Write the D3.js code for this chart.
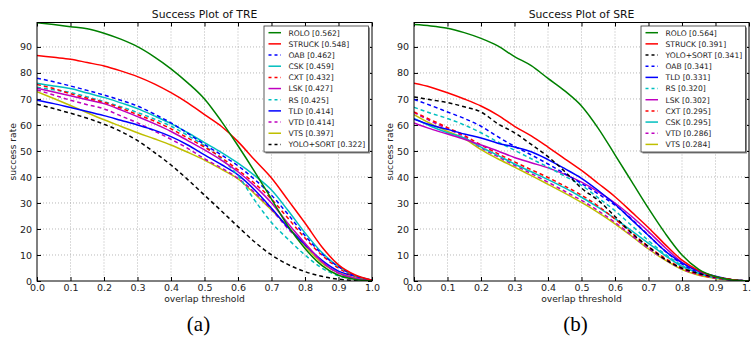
<!DOCTYPE html>
<html>
<head>
<meta charset="utf-8">
<script src="https://cdn.jsdelivr.net/npm/d3@7"></script>
<style>
  body { margin: 0; background: #fff; }
  svg { display: block; font-family: "DejaVu Sans", sans-serif; }
</style>
</head>
<body>
<svg id="chart" width="751" height="339"></svg>
<script>
// overlap thresholds the success rate was sampled at
const thresholds = [0.0, 0.05, 0.1, 0.15, 0.2, 0.25, 0.3, 0.35, 0.4, 0.45, 0.5, 0.55, 0.6, 0.65, 0.7, 0.75, 0.8, 0.85, 0.9, 0.95, 1.0];
const xTicks = [0.0, 0.1, 0.2, 0.3, 0.4, 0.5, 0.6, 0.7, 0.8, 0.9, 1.0];
const yTicks = [0, 10, 20, 30, 40, 50, 60, 70, 80, 90];

// TRE panel
const treNames = ['ROLO', 'STRUCK', 'OAB', 'CSK', 'CXT', 'LSK', 'RS', 'TLD', 'VTD', 'VTS', 'YOLO+SORT'];
const treScores = ['0.562', '0.548', '0.462', '0.459', '0.432', '0.427', '0.425', '0.414', '0.414', '0.397', '0.322'];
const treRolo = [99.3, 98.6, 97.8, 97.0, 95.3, 93.0, 90.1, 86.2, 81.6, 76.2, 70.0, 61.5, 52.0, 42.0, 31.5, 21.0, 12.5, 6.0, 2.2, 0.6, 0.0];
const treStruck = [86.7, 86.0, 85.3, 84.0, 82.7, 80.8, 78.6, 75.8, 72.4, 68.5, 64.0, 59.5, 53.6, 46.5, 39.6, 31.0, 22.3, 13.2, 6.2, 2.3, 0.3];
const treOab = [78.0, 76.6, 75.0, 73.3, 71.5, 69.5, 67.3, 64.2, 60.8, 56.8, 52.5, 48.5, 44.3, 39.0, 33.0, 25.5, 17.5, 10.5, 5.5, 2.0, 0.3];
const treCsk = [76.0, 75.0, 74.0, 72.3, 70.6, 68.5, 66.3, 63.5, 60.5, 57.0, 53.2, 49.5, 45.3, 40.5, 35.0, 27.0, 18.5, 11.0, 5.5, 2.0, 0.3];
const treCxt = [75.6, 74.0, 72.0, 70.3, 68.7, 66.5, 64.0, 61.5, 58.5, 55.0, 51.5, 47.5, 42.7, 37.5, 31.5, 24.0, 16.5, 10.0, 5.0, 1.8, 0.3];
const treLsk = [74.1, 72.7, 71.2, 69.7, 68.2, 65.8, 63.2, 60.5, 57.5, 54.0, 50.4, 46.5, 42.0, 36.5, 30.0, 22.0, 14.5, 7.5, 3.0, 1.0, 0.2];
const treRs = [74.5, 73.5, 72.5, 70.8, 69.0, 67.0, 64.8, 62.3, 59.5, 56.0, 52.0, 47.0, 40.5, 31.0, 22.5, 16.0, 10.0, 5.0, 2.0, 0.7, 0.1];
const treTld = [69.5, 68.2, 66.7, 65.2, 63.6, 61.8, 60.0, 58.0, 55.5, 52.3, 48.5, 44.8, 40.8, 35.0, 28.0, 20.5, 14.0, 8.0, 3.8, 1.8, 0.3];
const treVtd = [73.5, 71.5, 69.5, 67.8, 66.2, 63.5, 60.8, 57.7, 54.5, 51.0, 47.0, 43.5, 39.5, 34.0, 27.5, 20.0, 14.0, 7.5, 3.0, 1.0, 0.2];
const treVts = [72.8, 70.2, 67.5, 64.7, 62.0, 59.5, 57.0, 54.7, 52.3, 49.5, 46.5, 43.0, 39.3, 33.5, 27.3, 20.8, 13.5, 7.0, 3.2, 1.2, 0.2];
const treYolo = [68.0, 66.3, 64.5, 62.6, 60.3, 57.5, 54.0, 49.5, 44.6, 39.0, 33.0, 27.0, 20.9, 15.0, 10.0, 6.3, 3.6, 1.8, 0.7, 0.2, 0.0];

// SRE panel
const sreNames = ['ROLO', 'STRUCK', 'YOLO+SORT', 'OAB', 'TLD', 'RS', 'LSK', 'CXT', 'CSK', 'VTD', 'VTS'];
const sreScores = ['0.564', '0.391', '0.341', '0.341', '0.331', '0.320', '0.302', '0.295', '0.295', '0.286', '0.284'];
const sreRolo = [98.6, 98.1, 97.2, 95.5, 93.3, 90.4, 86.3, 82.8, 77.9, 73.1, 67.3, 58.7, 48.5, 38.2, 27.9, 18.3, 10.0, 4.5, 1.7, 0.4, 0.0];
const sreStruck = [76.0, 74.5, 72.4, 70.0, 67.3, 63.8, 59.5, 55.8, 51.5, 47.0, 42.5, 37.5, 32.4, 26.5, 20.5, 14.0, 8.0, 4.0, 1.6, 0.5, 0.0];
const sreYolo = [70.8, 69.7, 68.6, 67.0, 65.0, 60.5, 57.0, 52.5, 47.8, 42.1, 35.7, 31.0, 24.8, 18.3, 13.2, 8.3, 4.9, 2.9, 1.5, 0.5, 0.0];
const sreOab = [69.8, 67.5, 65.0, 62.5, 59.5, 55.5, 51.8, 48.5, 45.0, 41.3, 37.5, 33.5, 29.2, 23.8, 17.5, 11.5, 6.5, 3.2, 1.4, 0.4, 0.0];
const sreTld = [62.2, 60.0, 58.3, 56.5, 55.0, 53.0, 51.5, 49.7, 46.7, 43.2, 39.5, 34.8, 29.5, 23.5, 17.5, 11.5, 7.0, 3.8, 1.8, 0.5, 0.0];
const sreRs = [66.8, 64.5, 62.5, 60.0, 57.0, 53.5, 50.3, 47.0, 43.8, 40.3, 36.8, 32.0, 27.0, 21.3, 15.5, 10.3, 6.0, 3.0, 1.3, 0.4, 0.0];
const sreLsk = [60.8, 58.5, 56.5, 54.5, 52.3, 50.0, 47.5, 45.5, 43.5, 41.0, 38.0, 34.3, 30.0, 24.8, 19.0, 12.8, 7.2, 3.6, 1.5, 0.4, 0.0];
const sreCxt = [65.0, 62.0, 59.0, 56.0, 52.3, 49.0, 45.8, 42.8, 39.8, 36.5, 33.0, 28.8, 23.8, 18.5, 13.2, 8.7, 5.0, 2.6, 1.2, 0.4, 0.0];
const sreCsk = [62.5, 59.5, 57.0, 55.0, 51.5, 48.3, 45.0, 42.0, 39.0, 35.8, 32.2, 28.3, 24.0, 19.3, 14.5, 9.8, 5.6, 3.0, 1.3, 0.4, 0.0];
const sreVtd = [64.8, 61.5, 58.5, 55.5, 51.2, 47.8, 44.5, 41.3, 38.0, 34.5, 31.0, 27.0, 22.5, 17.5, 12.5, 8.2, 4.6, 2.4, 1.1, 0.3, 0.0];
const sreVts = [64.0, 60.5, 57.5, 54.8, 50.5, 47.0, 43.8, 40.5, 37.2, 33.8, 30.2, 26.3, 22.0, 17.2, 12.3, 8.0, 4.4, 2.2, 1.0, 0.3, 0.0];

// line style per tracker (matplotlib classic colours)
const styles = {
  'ROLO': { color: '#008000', dash: null },
  'STRUCK': { color: '#ff0000', dash: null },
  'OAB': { color: '#0000ff', dash: '4,3' },
  'CSK': { color: '#00bfbf', dash: null },
  'CXT': { color: '#ff0000', dash: '4,3' },
  'LSK': { color: '#bf00bf', dash: null },
  'RS': { color: '#00bfbf', dash: '4,3' },
  'TLD': { color: '#0000ff', dash: null },
  'VTD': { color: '#bf00bf', dash: '4,3' },
  'VTS': { color: '#bfbf00', dash: null },
  'YOLO+SORT': { color: '#000000', dash: '4,3' }
};

const treSeries = {
  'ROLO': treRolo, 'STRUCK': treStruck, 'OAB': treOab, 'CSK': treCsk, 'CXT': treCxt, 'LSK': treLsk,
  'RS': treRs, 'TLD': treTld, 'VTD': treVtd, 'VTS': treVts, 'YOLO+SORT': treYolo
};
const sreSeries = {
  'ROLO': sreRolo, 'STRUCK': sreStruck, 'YOLO+SORT': sreYolo, 'OAB': sreOab, 'TLD': sreTld, 'RS': sreRs,
  'LSK': sreLsk, 'CXT': sreCxt, 'CSK': sreCsk, 'VTD': sreVtd, 'VTS': sreVts
};

const svg = d3.select('#chart');
const plotTop = 22.5, plotBottom = 281;

function drawPanel(id, left, right, title, names, scores, series, caption) {
  const x = d3.scaleLinear().domain([0, 1]).range([left, right]);
  const y = d3.scaleLinear().domain([0, 99.4]).range([plotBottom, plotTop]);
  const g = svg.append('g').attr('id', id);

  // grid
  g.append('g').selectAll('line')
    .data(xTicks.slice(1, -1))
    .enter().append('line')
    .attr('x1', d => x(d)).attr('x2', d => x(d))
    .attr('y1', plotTop).attr('y2', plotBottom)
    .attr('stroke', '#999').attr('stroke-width', 0.7).attr('stroke-dasharray', '1,2');
  g.append('g').selectAll('line')
    .data(yTicks.slice(1))
    .enter().append('line')
    .attr('x1', left).attr('x2', right)
    .attr('y1', d => y(d)).attr('y2', d => y(d))
    .attr('stroke', '#999').attr('stroke-width', 0.7).attr('stroke-dasharray', '1,2');

  // axes, ticks pointing inward on all four sides
  g.append('g')
    .attr('transform', `translate(0,${plotBottom})`)
    .call(d3.axisBottom(x).tickValues(xTicks).tickFormat(d3.format('.1f')).tickSize(-4).tickPadding(3));
  g.append('g')
    .attr('transform', `translate(0,${plotTop})`)
    .call(d3.axisTop(x).tickValues(xTicks).tickFormat('').tickSize(-4));
  g.append('g')
    .attr('transform', `translate(${left},0)`)
    .call(d3.axisLeft(y).tickValues(yTicks).tickSize(-4).tickPadding(5));
  g.append('g')
    .attr('transform', `translate(${right},0)`)
    .call(d3.axisRight(y).tickValues(yTicks).tickFormat('').tickSize(-4));
  g.selectAll('.domain').remove();
  g.selectAll('.tick text').attr('font-size', 9.5).attr('fill', '#222')
    .attr('font-family', '"DejaVu Sans", sans-serif');

  // curves
  const clipId = id + '-clip';
  g.append('clipPath').attr('id', clipId)
    .append('rect').attr('x', left).attr('y', plotTop)
    .attr('width', right - left).attr('height', plotBottom - plotTop);

  const line = d3.line()
    .x((d, i) => x(thresholds[i]))
    .y(d => y(d))
    .curve(d3.curveMonotoneX);

  const plot = g.append('g').attr('clip-path', `url(#${clipId})`);
  names.slice().reverse().forEach(name => {
    plot.append('path')
      .attr('d', line(series[name]))
      .attr('fill', 'none')
      .attr('stroke', styles[name].color)
      .attr('stroke-width', 1.5)
      .attr('stroke-dasharray', styles[name].dash);
  });

  // frame
  g.append('rect')
    .attr('x', left).attr('y', plotTop)
    .attr('width', right - left).attr('height', plotBottom - plotTop)
    .attr('fill', 'none').attr('stroke', '#000').attr('stroke-width', 1);

  // titles and labels
  const cx = (left + right) / 2;
  g.append('text').attr('x', cx).attr('y', 17.5)
    .attr('text-anchor', 'middle').attr('font-size', 10.8).attr('fill', '#111')
    .text(title);
  g.append('text').attr('x', cx).attr('y', 301.5)
    .attr('text-anchor', 'middle').attr('font-size', 9.2).attr('fill', '#222')
    .text('overlap threshold');
  g.append('text')
    .attr('transform', `translate(${left - 21},${(plotTop + plotBottom) / 2}) rotate(-90)`)
    .attr('text-anchor', 'middle').attr('font-size', 9.2).attr('fill', '#222')
    .text('success rate');
  g.append('text').attr('x', cx - 6).attr('y', 331)
    .attr('text-anchor', 'middle').attr('font-size', 21)
    .attr('font-family', '"Liberation Serif", "DejaVu Serif", serif').attr('fill', '#000')
    .text(caption);

  // legend
  const lx = right - 108, ly = 26, lw = 104.5, lh = 126;
  const leg = g.append('g');
  leg.append('rect').attr('x', lx + 1.5).attr('y', ly + 1.5).attr('width', lw).attr('height', lh)
    .attr('fill', '#888');
  leg.append('rect').attr('x', lx).attr('y', ly).attr('width', lw).attr('height', lh)
    .attr('fill', '#fff').attr('stroke', '#333').attr('stroke-width', 0.8);
  names.forEach((name, i) => {
    const ry = ly + 6.7 + i * 11.17;
    leg.append('line')
      .attr('x1', lx + 4.5).attr('x2', lx + 17)
      .attr('y1', ry).attr('y2', ry)
      .attr('stroke', styles[name].color).attr('stroke-width', 1.5)
      .attr('stroke-dasharray', styles[name].dash ? '3,3' : null);
    leg.append('text')
      .attr('x', lx + 24.5).attr('y', ry + 2.8)
      .attr('font-size', 7.6).attr('fill', '#222')
      .text(`${name} [${scores[i]}]`);
  });
}

drawPanel('tre', 37, 372, 'Success Plot of TRE', treNames, treScores, treSeries, '(a)');
drawPanel('sre', 414, 749, 'Success Plot of SRE', sreNames, sreScores, sreSeries, '(b)');
</script>
</body>
</html>
